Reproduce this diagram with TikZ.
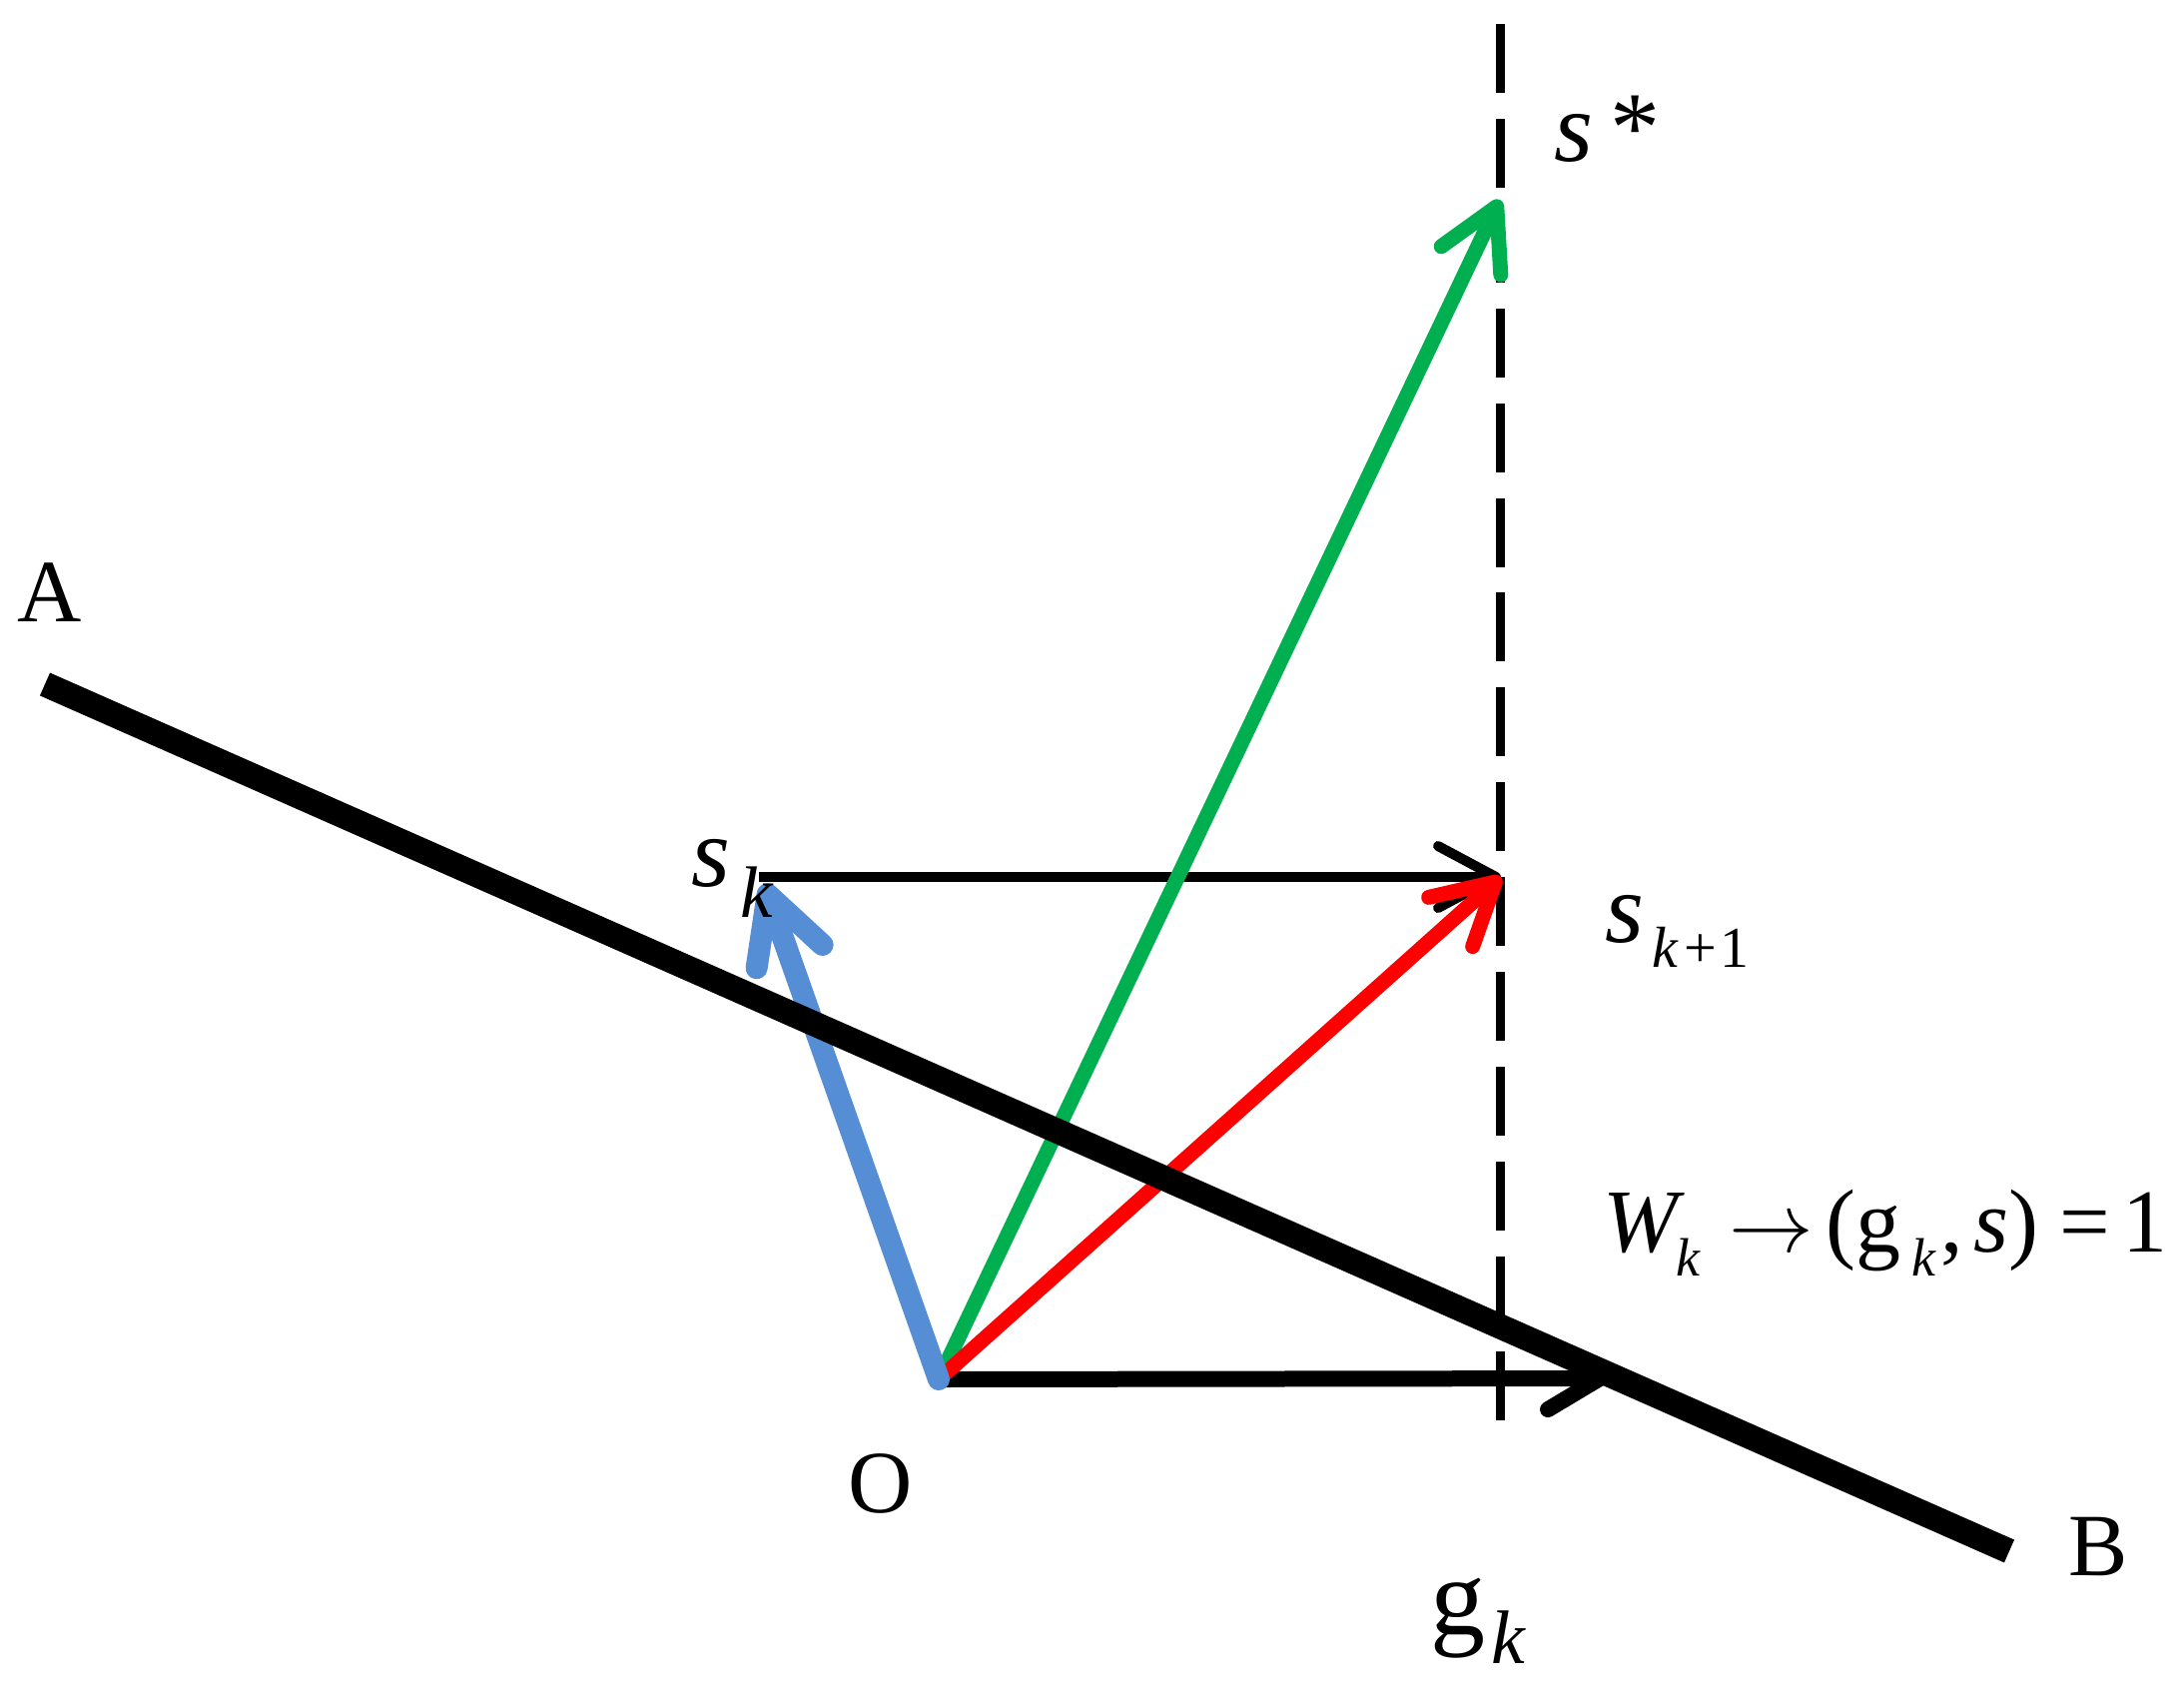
\documentclass[tikz,border=0pt]{standalone}
\usepackage{fontspec}
\usepackage{graphicx}
\setmainfont{Liberation Serif}
\usetikzlibrary{arrows.meta}
\definecolor{vgreen}{HTML}{00B050}
\definecolor{vred}{HTML}{FF0000}
\definecolor{vblue}{HTML}{558ED5}
\newcommand{\fs}[1]{\fontsize{#1}{#1}\selectfont}
\begin{document}
\begin{tikzpicture}[x=1pt,y=-1pt,
  lbl/.style={inner sep=0pt,outer sep=0pt,font=\fs{89}},
  vec/.style={line cap=round},
]
\useasboundingbox[fill=white] (0,0) rectangle (2187,1705);
% points
\coordinate (O) at (940,1381);
\coordinate (Sstar) at (1502,200);
\coordinate (Sk1) at (1503,878);
\coordinate (Sk) at (765,885);
\coordinate (Skl) at (760,878);
\coordinate (G) at (1610,1380);
\coordinate (Dtop) at (1502,24);
\coordinate (Dbot) at (1502,1423);
\coordinate (A0) at (45,685);
\coordinate (B0) at (2012,1553);
% black horizontal arrows
\draw[line width=10pt,-{Straight Barb[length=58pt,width=62pt,round]}] (Skl) -- (Sk1);
\draw[line width=16pt,-{Straight Barb[length=52pt,width=62pt,round]}] (O) -- (G);
% dashed vertical
\draw[line width=9pt,dash pattern=on 69pt off 25.9pt] (Dtop) -- (Dbot);
% coloured vectors
\draw[vgreen,line width=15pt,vec,-{Straight Barb[length=60pt,width=66pt,round]}] (O) -- (Sstar);
\draw[vred,line width=15pt,vec,-{Straight Barb[length=60pt,width=66pt,round]}] (O) -- (Sk1);
\draw[vblue,line width=22pt,vec,-{Straight Barb[length=66pt,width=70pt,round]}] (O) -- (Sk);
% line AB
\draw[line width=25pt] (A0) -- (B0);
% labels
\node[lbl,anchor=base] (A) at (50,622) {A};
\node[lbl,anchor=base] (B) at (2101,1577) {B};
\node[lbl,anchor=base] (Olab) at (882,1514) {O};
\node[lbl,anchor=base west,font=\fs{100}] (sstarlab) at (1556,161) {\textit{s}\kern18pt*};
\node[lbl,anchor=base west,font=\fs{100}] (sklab) at (692,887) {\textit{s}\kern11pt\raisebox{-31pt}{\fs{73}\textit{k}}};
\node[lbl,anchor=base west,font=\fs{100}] (sk1lab) at (1607,943) {\textit{s}\kern9pt\raisebox{-25pt}{\fs{58}\textit{k}\kern5pt+\kern3pt1}};
\node[lbl,anchor=base west,font=\fs{110}] (gklab) at (1432,1636) {g\kern6pt\raisebox{-29pt}{\fs{76}\textit{k}}};
\node[lbl,anchor=base west,font=\fs{90}] (wlab) at (1605,1253)
 {\textit{W}\kern-8pt\raisebox{-24pt}{\fs{54}\textit{k}}\kern28pt{\fs{24.88}\scalebox{3.4}{$\rightarrow$}}\kern12pt(g\kern11pt\raisebox{-24pt}{\fs{54}\textit{k}}\kern5pt,\kern10pt\textit{s})\kern21pt=\kern12pt1};
\end{tikzpicture}
\end{document}
